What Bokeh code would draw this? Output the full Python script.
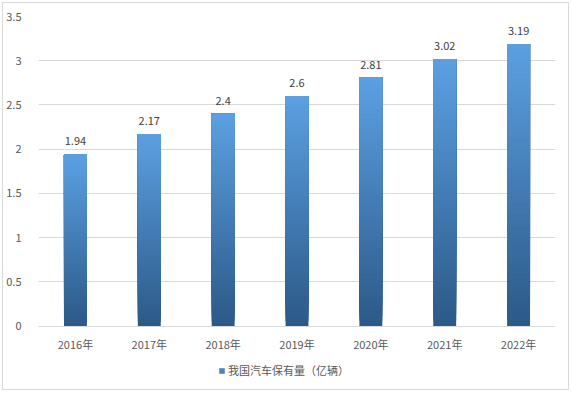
from bokeh.plotting import figure
from bokeh.models import ColumnDataSource, FixedTicker, Legend, LegendItem, Range1d
from bokeh.embed import file_html
from bokeh.resources import INLINE
from bokeh.core.properties import value

years = ["2016年", "2017年", "2018年", "2019年", "2020年", "2021年", "2022年"]
values = [1.94, 2.17, 2.4, 2.6, 2.81, 3.02, 3.19]
labels = ["1.94", "2.17", "2.4", "2.6", "2.81", "3.02", "3.19"]
y_ticks = [0, 0.5, 1, 1.5, 2, 2.5, 3, 3.5]
y_tick_labels = ["0", "0.5", "1", "1.5", "2", "2.5", "3", "3.5"]
series_name = "我国汽车保有量（亿辆）"

FONT = "Noto Sans CJK SC"
TOP_C = (0x5B, 0xA0, 0xE2)
BOT_C = (0x2C, 0x59, 0x87)
N = 48

def mix(t):
    r = [int(round(BOT_C[k] + (TOP_C[k] - BOT_C[k]) * t)) for k in range(3)]
    return "#%02x%02x%02x" % tuple(r)

seg = dict(x=[], bottom=[], top=[], color=[])
for i in range(N):
    for yr, v in zip(years, values):
        seg["x"].append(yr)
        seg["bottom"].append(v * i / N)
        seg["top"].append(v)
        seg["color"].append(mix((i + 0.5) / N))

W, H = 567, 388
TOPB, BOTB = 13, 6
frame_h = H - TOPB - BOTB
zero_px = 309.5
ymin = 3.5 - 3.5 * frame_h / zero_px

p = figure(x_range=years, y_range=Range1d(ymin, 3.5), width=W, height=H,
           output_backend="svg", toolbar_location=None,
           min_border_left=35, min_border_right=15, min_border_top=TOPB, min_border_bottom=BOTB)
p.styles = {"border": "1px solid #d9d9d9", "margin-left": "2px", "margin-top": "2px"}
p.outline_line_color = None

# legend swatch renderer, hidden behind the first bar
leg_r = p.vbar(x=[years[0]], bottom=[0], top=[values[0] / 2], width=0.1,
               fill_color="#4a86c4", line_color=None)

p.vbar(x="x", bottom="bottom", top="top", width=0.31, color="color",
       line_color=None, source=ColumnDataSource(seg))

lbl = ColumnDataSource(dict(x=years, y=values, t=labels))
p.text(x="x", y="y", text="t", source=lbl, text_align="center", text_baseline="middle",
       y_offset=-13, text_font=value(FONT), text_font_size="11px", text_color="#404040")

cat = ColumnDataSource(dict(x=years, y=[0] * len(years), t=years))
p.text(x="x", y="y", text="t", source=cat, text_align="center", text_baseline="middle",
       y_offset=18, text_font=value(FONT), text_font_size="11px", text_color="#595959")

legend = Legend(items=[LegendItem(label=series_name, renderers=[leg_r])],
                orientation="horizontal", location=(180, 7),
                label_text_font=FONT, label_text_font_size="11px", label_text_color="#595959",
                glyph_width=7, glyph_height=7, label_standoff=3, padding=0, margin=0,
                border_line_color=None, background_fill_alpha=0)
p.add_layout(legend, "center")

p.xaxis.visible = False
p.yaxis.ticker = FixedTicker(ticks=y_ticks)
p.yaxis.major_label_overrides = {t: s for t, s in zip(y_ticks, y_tick_labels)}
p.yaxis.axis_line_color = None
p.yaxis.major_tick_line_color = None
p.yaxis.minor_tick_line_color = None
p.yaxis.major_label_text_font = FONT
p.yaxis.major_label_text_font_size = "11px"
p.yaxis.major_label_text_color = "#595959"
p.yaxis.major_label_standoff = 11
p.xgrid.grid_line_color = None
p.ygrid.grid_line_color = "#d9d9d9"
p.x_range.range_padding = 0

open("out.html", "w").write(file_html(p, INLINE))
